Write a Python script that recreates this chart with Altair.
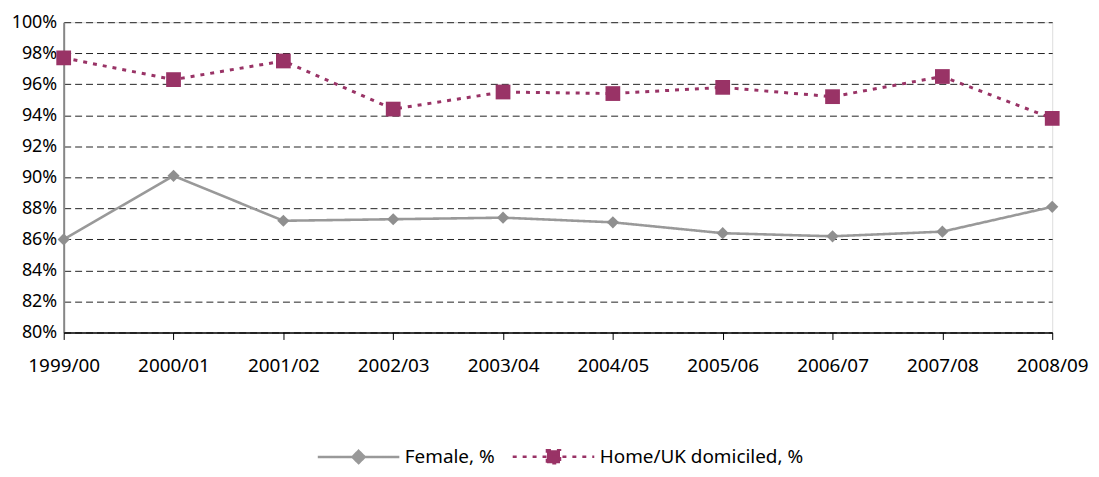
import altair as alt
import pandas as pd

years = ["1999/00", "2000/01", "2001/02", "2002/03", "2003/04",
         "2004/05", "2005/06", "2006/07", "2007/08", "2008/09"]
female = [86.0, 90.1, 87.2, 87.3, 87.4, 87.1, 86.4, 86.2, 86.5, 88.1]
home = [97.7, 96.3, 97.5, 94.4, 95.5, 95.4, 95.8, 95.2, 96.5, 93.8]
series_names = ["Female, %", "Home/UK domiciled, %"]
y_ticks = [80, 82, 84, 86, 88, 90, 92, 94, 96, 98, 100]

rows = []
for name, vals in zip(series_names, [female, home]):
    for yr, v in zip(years, vals):
        rows.append({"year": yr, "value": v, "series": name})
df = pd.DataFrame(rows)

colors = ["#999999", "#993366"]
point_colors = ["#8f8f8f", "#993366"]
FONT = "Noto Sans"
FS = 19

x = alt.X("year:N", sort=years, title=None,
          scale=alt.Scale(type="point", padding=0),
          axis=alt.Axis(labelAngle=0, labelFont=FONT, labelFontSize=FS,
                        labelColor="#000", labelPadding=17, domainColor="#000",
                        domainWidth=1.5, tickColor="#000", tickSize=7,
                        tickWidth=1, grid=False, zindex=2))
y = alt.Y("value:Q", title=None,
          scale=alt.Scale(domain=[80, 100], nice=False, zero=False),
          axis=alt.Axis(values=y_ticks, labelExpr="datum.value + '%'",
                        labelFont=FONT, labelFontSize=18, labelColor="#000",
                        labelPadding=7, ticks=False, domainColor="#868686",
                        domainWidth=2, grid=True, gridColor="#222",
                        gridDash=[7, 4], gridWidth=1, labelOverlap=False))

lines = alt.Chart(df).mark_line().encode(
    x=x, y=y,
    color=alt.Color("series:N", scale=alt.Scale(domain=series_names, range=colors), legend=None),
    strokeDash=alt.StrokeDash("series:N", scale=alt.Scale(domain=series_names, range=[[1, 0], [4, 6]]), legend=None),
    strokeWidth=alt.StrokeWidth("series:N", scale=alt.Scale(domain=series_names, range=[2.6, 3]), legend=None),
)

points = alt.Chart(df).mark_point(filled=True, opacity=1).encode(
    x=x, y=y,
    color=alt.Color("series:N", scale=alt.Scale(domain=series_names, range=point_colors), legend=None),
    shape=alt.Shape("series:N", scale=alt.Scale(domain=series_names, range=["diamond", "square"]), legend=None),
    size=alt.Size("series:N", scale=alt.Scale(domain=series_names, range=[150, 220]), legend=None),
)

female_path = "M-1,0L1,0M-0.15,0L0,-0.15L0.15,0L0,0.15Z"
home_path = "M-1,0L1,0M-0.16,-0.16L0.16,-0.16L0.16,0.16L-0.16,0.16Z"

legend_layer = alt.Chart(df).transform_filter("false").mark_point(filled=True, opacity=1).encode(
    x=x, y=y,
    color=alt.Color("series:N", title=None,
                    scale=alt.Scale(domain=series_names, range=colors),
                    legend=alt.Legend(orient="none", legendX=254, legendY=394,
                                      direction="horizontal", labelFont=FONT,
                                      labelFontSize=FS, labelColor="#000",
                                      labelOffset=4, columnPadding=12,
                                      labelLimit=400,
                                      symbolSize=6724, symbolStrokeWidth=2.5,
                                      title=None)),
    stroke=alt.Stroke("series:N", title=None, scale=alt.Scale(domain=series_names, range=colors)),
    shape=alt.Shape("series:N", title=None, scale=alt.Scale(domain=series_names, range=[female_path, home_path])),
    strokeDash=alt.StrokeDash("series:N", title=None, scale=alt.Scale(domain=series_names, range=[[1, 0], [4, 6]])),
)

chart = alt.layer(lines, points, legend_layer).resolve_scale(
    color="independent", shape="independent", strokeDash="independent",
    size="independent", strokeWidth="independent", stroke="independent"
).properties(
    width=994, height=312,
    autosize=alt.AutoSizeParams(type="none"),
    padding={"left": 56, "top": 13, "right": 39, "bottom": 136},
).configure_view(stroke=None).configure(background="white")

chart.save("out.html", embed_options={"renderer": "svg", "actions": False})
